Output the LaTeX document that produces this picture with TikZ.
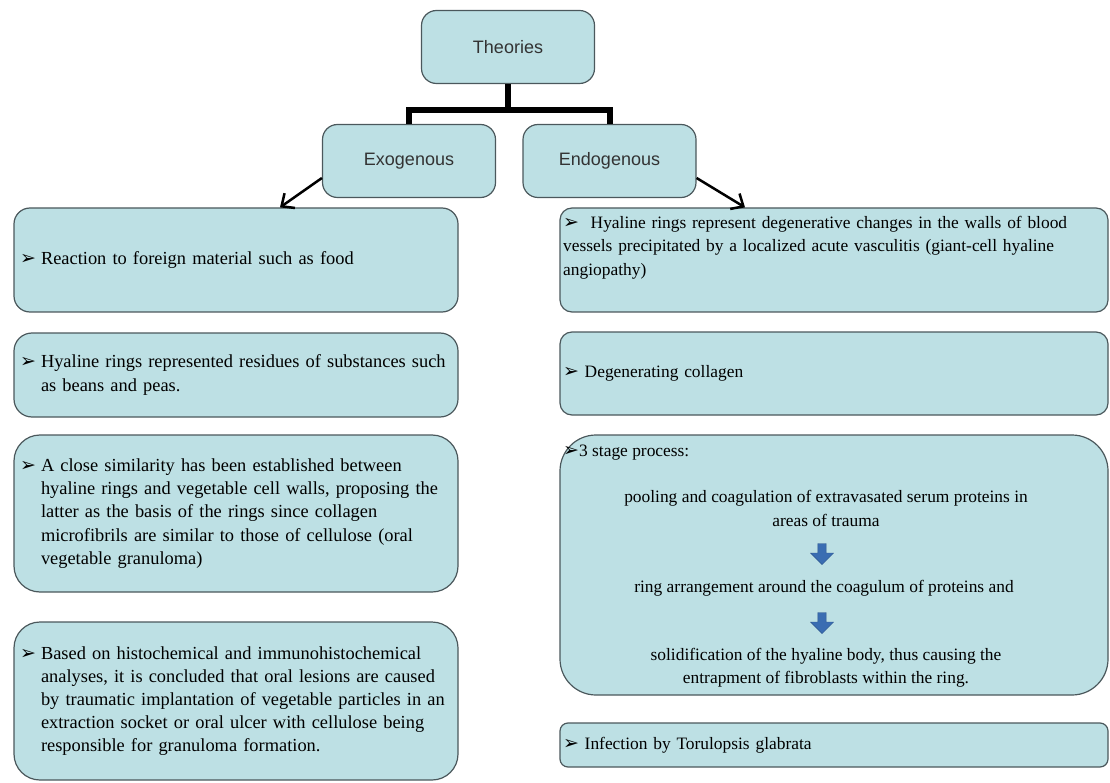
\documentclass[tikz,border=0pt]{standalone}
\usepackage{fontspec}
\setmainfont{Liberation Serif}
\setsansfont{Liberation Sans}
\newfontfamily\symfont{DejaVu Sans}
\usetikzlibrary{shapes,arrows.meta,positioning}
\definecolor{boxfill}{RGB}{189,224,228}
\definecolor{boxline}{RGB}{75,88,92}
\definecolor{stepblue}{RGB}{58,109,178}
\newcommand{\bul}{{\symfont\fontsize{19}{19}\selectfont ➢}}
\newcommand{\hbul}{\hangindent=21pt\hangafter=1\makebox[21pt][l]{\bul}}
\tikzstyle{arrow} = [-{Straight Barb[length=10pt,width=18pt,line width=2.5pt]}, line width=2.5pt]
\tikzstyle{tree} = [line width=6pt]
\tikzstyle{block} = [rectangle, draw=boxline, line width=1.2pt, fill=boxfill,
rounded corners=15pt, font=\sffamily\fontsize{18}{22}\selectfont, text=black!80, minimum width=173pt, minimum height=73pt]
\tikzstyle{leftbox} = [rectangle, draw=boxline, line width=1.2pt, fill=boxfill,
rounded corners=18pt, minimum width=444pt, text width=432pt, inner xsep=6pt, align=left,
font=\fontsize{18.4}{23.2}\selectfont]
\tikzstyle{rightbox} = [rectangle, draw=boxline, line width=1.2pt, fill=boxfill,
rounded corners=12pt, minimum width=548pt, text width=542pt, inner xsep=3pt, align=left,
font=\fontsize{17.4}{23.5}\selectfont]
\tikzstyle{plain} = [inner sep=0pt, font=\fontsize{17.4}{23.2}\selectfont]
\tikzstyle{downarrow} = [single arrow, shape border rotate=270, fill=stepblue, draw=stepblue!80!black,
minimum width=23pt, single arrow head extend=4pt, single arrow tip angle=90, minimum height=21pt, inner sep=2pt]

\begin{document}
\begin{tikzpicture}[x=1pt, y=-1pt]
				\useasboundingbox (0,0) rectangle (1110,783);
				% Top of the tree
				\node (theories) [block] at (508,47) {Theories};
				\node (exo) [block] at (409,161) {Exogenous};
				\node (endo) [block] at (609.5,161) {Endogenous};
				\coordinate (split) at (508,110);
				\draw[tree] (theories.south) -- (split);
				\draw[tree] (exo.north) |- (split) -| (endo.north);

				% Exogenous column
				\node (exoa) [leftbox, minimum height=104pt, rounded corners=16pt] at (236,260)
				{\hbul Reaction to foreign material such as food\par};
				\node (exob) [leftbox, minimum height=84pt] at (236,375)
				{\hbul Hyaline rings represented residues of substances such\newline as beans and peas.\par};
				\node (exoc) [leftbox, minimum height=157pt, rounded corners=26pt] at (236,513.5)
				{\hbul A close similarity\ has been established between\newline hyaline\ rings and vegetable cell walls, proposing the\newline latter as the basis of the rings since collagen\newline microfibrils\ are similar to those of cellulose (oral\newline vegetable granuloma)\par};
				\node (exod) [leftbox, minimum height=158pt, rounded corners=26pt] at (236,701)
				{\hbul Based on histochemical\ and immunohistochemical\newline analyses, it is concluded\ that oral lesions\ are caused\newline by traumatic implantation\ of vegetable particles in an\newline extraction socket or oral ulcer with cellulose\ being\newline responsible\ for granuloma\ formation.\par};

				% Endogenous column
				\node (endoa) [rightbox, minimum height=104pt] at (834,260) {};
				\node (endoatext) [plain, anchor=north west, text width=540pt, align=left,
				font=\fontsize{17.4}{23.5}\selectfont] at (563,216)
				{\bul\ \ Hyaline rings represent degenerative changes in the walls of\ blood\\ vessels precipitated by a localized\ acute vasculitis (giant-cell\ hyaline\\ angiopathy)};
				\node (endob) [rightbox, minimum height=83pt] at (834,373.5)
				{\bul\ Degenerating collagen};
				\node (endoc) [rightbox, minimum height=260pt, rounded corners=36pt] at (834,565) {};
				\node (stagetitle) [plain, anchor=west] at (563,453) {\bul3 stage process:};
				\node (stepone) [plain, align=center] at (826,508.5)
				{pooling\ and coagulation\ of extravasated serum proteins in\\ areas of trauma};
				\node (arrowone) [downarrow] at (822,552) {};
				\node (steptwo) [plain] at (824,588) {ring arrangement around the coagulum of proteins\ and};
				\node (arrowtwo) [downarrow] at (822,621) {};
				\node (stepthree) [plain, align=center] at (826,668)
				{solidification\ of the hyaline body, thus causing the\\ entrapment of fibroblasts\ within\ the ring.};
				\node (endod) [rightbox, minimum height=44pt, rounded corners=8pt] at (834,745)
				{\bul\ Infection by Torulopsis\ glabrata};

				% Branch arrows
				\draw[arrow] ([yshift=-17pt]exo.west) -- ([xshift=44pt]exoa.north);
				\draw[arrow] ([yshift=-17pt]endo.east) -- ([xshift=-89pt]endoa.north);
\end{tikzpicture}
\end{document}
